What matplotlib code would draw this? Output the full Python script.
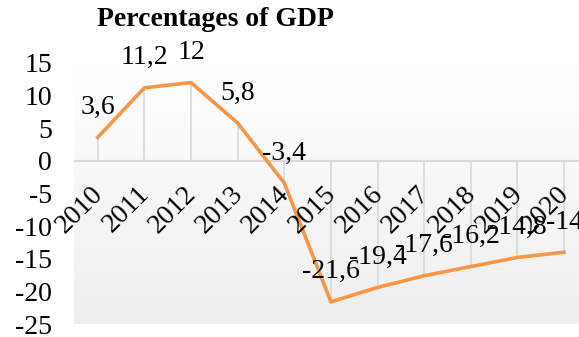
import numpy as np
import matplotlib.pyplot as plt

plt.rcParams.update({
    "font.family": ["Liberation Serif", "DejaVu Serif"],
    "font.size": 20,
})

# data
years = ["2010", "2011", "2012", "2013", "2014", "2015",
         "2016", "2017", "2018", "2019", "2020"]
values = [3.6, 11.2, 12, 5.8, -3.4, -21.6, -19.4, -17.6, -16.2, -14.8, -14]
labels = ["3,6", "11,2", "12", "5,8", "-3,4", "-21,6",
          "-19,4", "-17,6", "-16,2", "-14,8", "-14"]
yticks = [15, 10, 5, 0, -5, -10, -15, -20, -25]

W, H = 579, 337
fig = plt.figure(figsize=(W / 100, H / 100), dpi=100)
# plot area runs a bit past the right edge, as in the original
ax = fig.add_axes([74.4 / W, 13 / H, 513 / W, 261 / H])

x = np.arange(len(years))
ax.set_xlim(-0.5, len(years) - 0.5)
ax.set_ylim(-25, 15)

# soft vertical gradient background
grad = np.linspace(1.0, 0.935, 256).reshape(-1, 1)
ax.imshow(np.dstack([grad, grad, grad]), extent=[-0.5, len(years) - 0.5, -25, 15],
          aspect="auto", zorder=0, interpolation="bilinear")

# drop lines and category axis
ax.vlines(x, 0, values, color="#d9d9d9", lw=1.2, zorder=1)
ax.axhline(0, color="#d9d9d9", lw=1.5, zorder=1)

ax.plot(x, values, color="#f79646", lw=2.6, zorder=3, solid_joinstyle="round")

for xi, v, lab in zip(x, values, labels):
    ax.annotate(lab, (xi, v), xytext=(0, 17), textcoords="offset points",
                ha="center", va="baseline", fontsize=20, zorder=4)

for xi, yr in zip(x, years):
    ax.annotate(yr, (xi, 0), xytext=(1, -21), textcoords="offset points",
                rotation=45, rotation_mode="anchor", ha="right", va="center",
                fontsize=20, zorder=4)

ax.set_xticks([])
ax.set_yticks(yticks)
ax.set_yticklabels([str(t) for t in yticks])
ax.tick_params(axis="y", length=0, pad=16, labelsize=20)
for s in ax.spines.values():
    s.set_visible(False)

fig.text(215 / W, 1 - 19 / H, "Percentages of GDP", ha="center", va="center",
         fontsize=20, fontweight="bold")

fig.savefig("out.png", dpi=100)
